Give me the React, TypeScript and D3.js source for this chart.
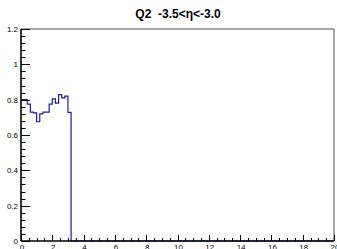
import React, { useEffect, useRef } from 'react';
import * as d3 from 'd3';

// histogram bin edges (width 0.2) and contents
const binLow = [0, 0.2, 0.4, 0.6, 0.8, 1.0, 1.2, 1.4, 1.6, 1.8, 2.0, 2.2, 2.4, 2.6, 2.8, 3.0];
const binWidth = 0.2;
const binValues = [0.8, 0.8, 0.775, 0.73, 0.725, 0.675, 0.72, 0.73, 0.73, 0.775, 0.805, 0.78, 0.828, 0.81, 0.82, 0.728];

const xTicks = [0, 2, 4, 6, 8, 10, 12, 14, 16, 18, 20];
const yTicks = [0, 0.2, 0.4, 0.6, 0.8, 1, 1.2];
const title = 'Q2  -3.5<η<-3.0';

const W = 337;
const H = 249;
const frame = { left: 21, right: 334, top: 29, bottom: 241 };

export default function App() {
    const svgRef = useRef<SVGSVGElement>(null);

    useEffect(() => {
        const svg = d3.select(svgRef.current);
        svg.selectAll('*').remove();

        const x = d3.scaleLinear().domain([0, 20]).range([frame.left, frame.right]);
        const y = d3.scaleLinear().domain([0, 1.2]).range([frame.bottom, frame.top]);

        svg.append('rect').attr('width', W).attr('height', H).attr('fill', '#fff');

        // frame (top / right)
        svg.append('path')
            .attr('d', `M${frame.left},${frame.top}H${frame.right}V${frame.bottom}`)
            .attr('fill', 'none')
            .attr('stroke', '#555')
            .attr('stroke-width', 1);

        // histogram as a step line
        const pts: [number, number][] = [];
        binLow.forEach((lo, i) => {
            pts.push([lo, binValues[i]]);
            pts.push([lo + binWidth, binValues[i]]);
        });
        const last = binLow[binLow.length - 1] + binWidth;
        pts.push([last, 0]);
        pts.push([20, 0]);

        const line = d3.line<[number, number]>()
            .x(d => x(d[0]))
            .y(d => y(d[1]));

        svg.append('path')
            .datum(pts)
            .attr('d', line)
            .attr('fill', 'none')
            .attr('stroke', '#1a1aa8')
            .attr('stroke-width', 1.2);

        // y axis
        const yAxis = svg.append('g');
        yAxis.append('line')
            .attr('x1', frame.left).attr('x2', frame.left)
            .attr('y1', frame.top).attr('y2', frame.bottom)
            .attr('stroke', '#000').attr('stroke-width', 1.6);
        d3.range(0, 1.2001, 0.04).forEach(v => {
            const major = Math.abs(v / 0.2 - Math.round(v / 0.2)) < 1e-6;
            yAxis.append('line')
                .attr('x1', frame.left).attr('x2', frame.left + (major ? 9 : 4.5))
                .attr('y1', Math.round(y(v)) + 0.5).attr('y2', Math.round(y(v)) + 0.5)
                .attr('stroke', '#000').attr('stroke-width', 1);
        });
        yTicks.forEach(v => {
            yAxis.append('text')
                .attr('x', frame.left - 3)
                .attr('y', y(v) + 3)
                .attr('text-anchor', 'end')
                .style('font-family', 'Liberation Sans, Arial, sans-serif')
                .style('font-size', '8px')
                .attr('fill', '#000')
                .text(String(v));
        });

        // x axis
        const xAxis = svg.append('g');
        xAxis.append('line')
            .attr('x1', frame.left).attr('x2', frame.right)
            .attr('y1', frame.bottom).attr('y2', frame.bottom)
            .attr('stroke', '#000').attr('stroke-width', 1.6);
        d3.range(0, 20.001, 0.5).forEach(v => {
            const major = Math.abs(v / 2 - Math.round(v / 2)) < 1e-6;
            xAxis.append('line')
                .attr('x1', Math.round(x(v)) + 0.5).attr('x2', Math.round(x(v)) + 0.5)
                .attr('y1', frame.bottom).attr('y2', frame.bottom - (major ? 6 : 3))
                .attr('stroke', '#000').attr('stroke-width', 1);
        });
        xTicks.forEach(v => {
            xAxis.append('text')
                .attr('x', x(v) + 1)
                .attr('y', frame.bottom + 9)
                .attr('text-anchor', 'middle')
                .style('font-family', 'Liberation Sans, Arial, sans-serif')
                .style('font-size', '8px')
                .attr('fill', '#000')
                .text(String(v));
        });

        svg.append('text')
            .attr('x', 178)
            .attr('y', 18)
            .attr('text-anchor', 'middle')
            .style('font-family', 'Liberation Sans, Arial, sans-serif')
            .style('font-size', '12px')
            .style('font-weight', 'bold')
            .style('white-space', 'pre')
            .attr('fill', '#000')
            .text(title);
    }, []);

    return (
        <svg
            ref={svgRef}
            width={W}
            height={H}
            style={{ position: 'fixed', left: 0, top: 0, display: 'block' }}
        />
    );
}
